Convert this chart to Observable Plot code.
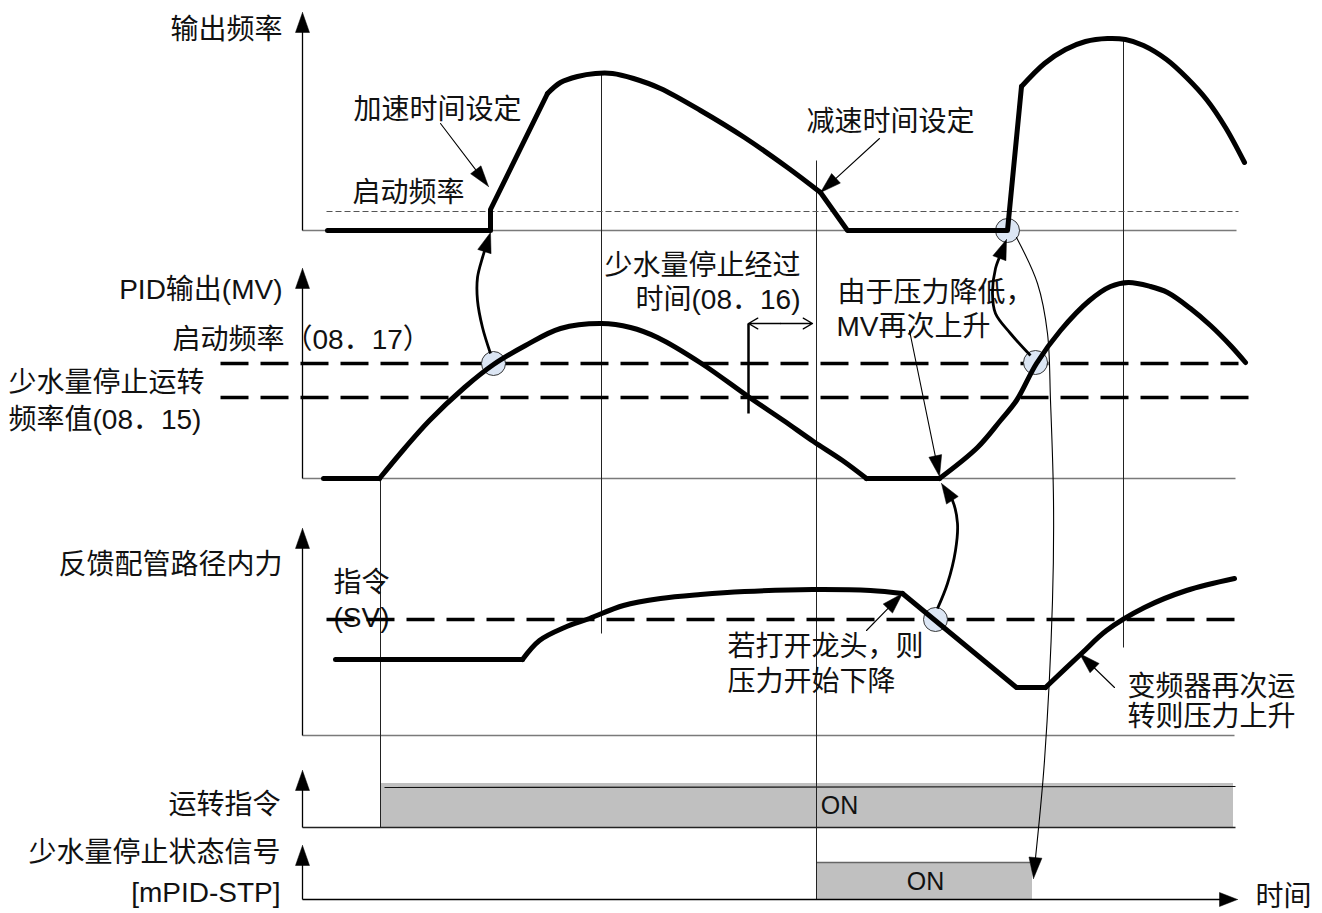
<!DOCTYPE html>
<html><head><meta charset="utf-8">
<script src="https://cdn.jsdelivr.net/npm/d3@7"></script>
<script src="https://cdn.jsdelivr.net/npm/@observablehq/plot@0.6"></script>
<style>html,body{margin:0;padding:0;background:#fff;} #chart svg{display:block}</style>
</head><body><div id="chart"></div>
<script>
// ---------------- DATA ----------------
// time in arbitrary units (s); each signal value is in level units above its panel baseline
const freqTime  = [2.5, 18.8, 18.8, 24.5, 25.8, 27.5, 29.3, 31.0, 33.1, 35.8, 39.8, 44.2, 48.5, 51.8, 54.5, 70.5, 71.9, 74.2, 76.3, 78.3, 80.5, 82.3, 84.1, 86.4, 88.5, 90.4, 92.3, 94.2];
const freqValue = [0, 0, 10.5, 68.5, 74, 77, 78.5, 78.5, 76, 71, 60, 46.5, 31.5, 19, 0, 0, 72, 83.5, 90.5, 94.5, 96, 95.5, 92.5, 85.5, 76, 65.5, 51.5, 34];
const freqSmooth = [[3, 13], [16, 27]];

const mvTime  = [2.1, 7.7, 10.2, 12.7, 16.2, 19.1, 22.3, 25.8, 29.9, 32.8, 35.5, 39.9, 44.7, 48.1, 51.1, 54.0, 56.4, 63.7, 67.5, 69.8, 71.4, 73.4, 75.8, 78.7, 80.8, 82.6, 84.8, 86.5, 88.8, 90.8, 92.8, 94.3];
const mvValue = [0, 0, 15, 29, 45.5, 57, 66.5, 75, 77.5, 75.5, 70.5, 57.5, 40.5, 29, 18.5, 9, 0, 0, 15.5, 29, 39, 57.5, 74, 89, 96, 98, 96, 93, 85, 76.5, 66.5, 58];
const mvSmooth = [[1, 16], [17, 31]];

const pressTime  = [3.3, 22.0, 23.7, 26.2, 28.7, 32.1, 35.8, 39.8, 44.2, 51.0, 56.8, 60.0, 71.4, 74.3, 77.9, 80.4, 84.2, 88.4, 93.2];
const pressValue = [38, 38, 47.5, 54, 58.5, 65, 68.5, 70.5, 72, 73, 72.5, 71, 24, 24, 41, 52.5, 64, 72.5, 78.5];
const pressSmooth = [[1, 11], [13, 18]];

// reference levels (dashed)
const refLines = [
  {name: "启动频率", p: 1, v: 9.5, t1: 2.4, t2: 93.6, kind: "thin"},
  {name: "启动频率(08.17)", p: 2, v: 57.5, t1: -8.2, t2: 93.6, kind: "thick"},
  {name: "少水量停止运转频率值(08.15)", p: 2, v: 40.5, t1: -8.2, t2: 95.0, kind: "thick"},
  {name: "指令(SV)", p: 3, v: 58, t1: 2.4, t2: 93.2, kind: "thick"}
];

// digital signals: run command and low-water stop state
const runOn = {t1: 7.9, t2: 93.1, level: 22};
const stpOn = {t1: 51.4, t2: 73.0, level: 18.5};

// event times (vertical markers): run start, MV peak, stop, MV second peak
const events = [
  {t: 7.8, from: [2, 0], to: [4, 0]},
  {t: 29.9, from: [1, 78.5], to: [3, 51]},
  {t: 51.4, from: [1, 35], to: [5, 0]},
  {t: 82.1, from: [1, 95], to: [3, 44]}
];

// highlighted crossings
const crossings = [
  {t: 19.1, p: 2, v: 57.5}, {t: 70.5, p: 1, v: 0},
  {t: 73.3, p: 2, v: 58}, {t: 63.3, p: 3, v: 58}
];

// connector arrows: points [t, panel, value]
const thickArrows = [
  {id: "a1", pts: [[18.8, 2, 62.5], [18.0, 2, 75.5], [17.5, 2, 89], [17.5, 2, 100.5], [18.0, 2, 110.5], [18.8, 1, -1]]},
  {id: "a2", pts: [[72.8, 2, 61.5], [70.8, 2, 72.5], [69.3, 2, 82.5], [69.0, 2, 92.5], [69.3, 2, 105], [70.4, 1, -4.5]]},
  {id: "a3", pts: [[63.5, 3, 63.5], [64.5, 3, 76], [65.3, 3, 92.5], [65.5, 3, 106], [65.0, 2, -11], [63.9, 2, -2.5]]}
];
const thinArrows = [
  {id: "t1", pts: [[13.8, 1, 53.5], [18.6, 1, 22]]},
  {id: "t2", pts: [[57.7, 1, 46], [51.8, 1, 19]]},
  {id: "t3", pts: [[60.7, 2, 74], [63.7, 2, 1]]},
  {id: "t4", pts: [[56.4, 3, 52.5], [60.0, 3, 71]]},
  {id: "t5", pts: [[81.2, 3, 24], [77.7, 3, 41]]},
  {id: "t6", pts: [[71.4, 1, -3.5], [73.5, 2, 97.5], [74.5, 2, 72.5], [74.8, 2, 39], [75.1, 3, 117.5], [75.0, 3, 67.5], [74.2, 4, 33.5], [73.1, 5, 10.5]]}
];
const span0816 = {t1: 44.6, t2: 51.0, p: 2, v: 77.5, tickFrom: 32.5};

// axes: panel, top value
const axisTop = [109, 105, 103.5, 28.5, 27];
const baselineEnd = [93.4, 93.3, 93.2, 93.3];
const timeAxisEnd = 93.5;

const labels = [
  {text: "输出频率", t: -2.0, p: 1, v: 100, a: "end"},
  {text: "加速时间设定", t: 5.1, p: 1, v: 60, a: "start"},
  {text: "启动频率", t: 5.0, p: 1, v: 18.5, a: "start"},
  {text: "减速时间设定", t: 50.4, p: 1, v: 54, a: "start"},
  {text: "PID输出(MV)", t: -2.0, p: 2, v: 94, a: "end"},
  {text: "启动频率（08．17）", t: -13.0, p: 2, v: 69, a: "start"},
  {text: "少水量停止运转", t: -29.4, p: 2, v: 47.5, a: "start"},
  {text: "频率值(08．15)", t: -29.4, p: 2, v: 29, a: "start"},
  {text: "少水量停止经过", t: 49.8, p: 2, v: 106, a: "end"},
  {text: "时间(08．16)", t: 49.8, p: 2, v: 89, a: "end"},
  {text: "由于压力降低，", t: 53.5, p: 2, v: 92.5, a: "start"},
  {text: "MV再次上升", t: 53.4, p: 2, v: 75.5, a: "start"},
  {text: "反馈配管路径内力", t: -2.0, p: 3, v: 85, a: "end"},
  {text: "指令", t: 3.1, p: 3, v: 76, a: "start"},
  {text: "(SV)", t: 3.1, p: 3, v: 58.5, a: "start"},
  {text: "若打开龙头，则", t: 42.5, p: 3, v: 44, a: "start"},
  {text: "压力开始下降", t: 42.5, p: 3, v: 26.5, a: "start"},
  {text: "变频器再次运", t: 82.5, p: 3, v: 24, a: "start"},
  {text: "转则压力上升", t: 82.5, p: 3, v: 9, a: "start"},
  {text: "运转指令", t: -2.2, p: 4, v: 11, a: "end"},
  {text: "少水量停止状态信号", t: -2.2, p: 5, v: 23, a: "end"},
  {text: "[mPID-STP]", t: -2.2, p: 5, v: 3, a: "end"},
  {text: "时间", t: 95.3, p: 5, v: 1, a: "start"}
];
const onLabels = [
  {text: "ON", t: 53.7, p: 4, v: 11},
  {text: "ON", t: 62.3, p: 5, v: 9}
];

// ---------------- LAYOUT ----------------
const W = 1322, H = 913;
const T0 = -30.2, T1 = 102.0;          // time span across the page
const LV = 456.5;                      // level span over the page height
const panelBase = [341.5, 217.5, 89, 43, 7];
const lvl = (p, v) => panelBase[p - 1] + v;
const xs = d3.scaleLinear([T0, T1], [0, W]);
const ys = d3.scaleLinear([0, LV], [H, 0]);
const FONT = "Liberation Sans, Noto Sans CJK SC, sans-serif";

function pieces(name, p, times, values, smooth) {
  const cut = new Set([0, times.length - 1]);
  smooth.forEach(([a, b]) => { cut.add(a); cut.add(b); });
  const c = [...cut].sort((a, b) => a - b);
  const rows = [];
  for (let k = 0; k < c.length - 1; k++) {
    const a = c[k], e = c[k + 1];
    const sm = smooth.some(([s0, s1]) => s0 === a && s1 === e);
    for (let i = a; i <= e; i++) rows.push({piece: name + k, smooth: sm, t: times[i], u: lvl(p, values[i])});
  }
  return rows;
}
const signal = [
  ...pieces("f", 1, freqTime, freqValue, freqSmooth),
  ...pieces("m", 2, mvTime, mvValue, mvSmooth),
  ...pieces("p", 3, pressTime, pressValue, pressSmooth)
];

// arrowhead polygon from direction of last segment (computed in pixel space)
function head(id, from, to, L, w) {
  const x1 = xs(from.t), y1 = ys(from.u), x2 = xs(to.t), y2 = ys(to.u);
  const dx = x2 - x1, dy = y2 - y1, len = Math.hypot(dx, dy);
  const ux = dx / len, uy = dy / len;
  const bx = x2 - L * ux, by = y2 - L * uy;
  const poly = [[x2, y2], [bx - w * uy, by + w * ux], [bx + w * uy, by - w * ux], [x2, y2]];
  return {
    poly: poly.map(([px, py]) => ({id, t: xs.invert(px), u: ys.invert(py)})),
    base: {t: xs.invert(x2 - 0.7 * L * ux), u: ys.invert(y2 - 0.7 * L * uy)}
  };
}
function buildArrows(list, L, w) {
  const lines = [], heads = [];
  for (const a of list) {
    const pts = a.pts.map(([t, p, v]) => ({id: a.id, t, u: lvl(p, v)}));
    const h = head(a.id, pts[pts.length - 2], pts[pts.length - 1], L, w);
    heads.push(...h.poly);
    pts[pts.length - 1] = {id: a.id, ...h.base};
    lines.push(...pts);
  }
  return {lines, heads};
}
const thick = buildArrows(thickArrows, 20, 7);
const thin = buildArrows(thinArrows, 21, 6.5);

// axes
const axisLines = [], axisHeads = [];
axisTop.forEach((top, i) => {
  const p = i + 1;
  const a = {t: 0, u: lvl(p, 0)}, b = {t: 0, u: lvl(p, top)};
  const h = head("ax" + p, a, b, 20, 7);
  axisLines.push({t1: 0, u1: a.u, t2: 0, u2: h.base.u});
  axisHeads.push(...h.poly);
});
{
  const a = {t: 0, u: lvl(5, 0)}, b = {t: timeAxisEnd, u: lvl(5, 0)};
  const h = head("time", a, b, 18, 7);
  axisLines.push({t1: 0, u1: a.u, t2: h.base.t, u2: a.u});
  axisHeads.push(...h.poly);
}
const baselines = baselineEnd.map((e, i) => ({t1: 0, t2: e, u: lvl(i + 1, 0), dark: i === 3}));

const plot = Plot.plot({
  width: W, height: H, margin: 0,
  x: {domain: [T0, T1], range: [0, W], axis: null},
  y: {domain: [0, LV], range: [H, 0], axis: null},
  style: {background: "#fff", overflow: "visible"},
  marks: [
    // digital signal bars
    Plot.rect([runOn], {x1: "t1", x2: "t2", y1: lvl(4, 0), y2: d => lvl(4, d.level), fill: "#c0c0c0"}),
    Plot.rect([stpOn], {x1: "t1", x2: "t2", y1: lvl(5, 0), y2: d => lvl(5, d.level), fill: "#c0c0c0"}),
    Plot.link([runOn], {x1: d => d.t1 + 0.3, x2: d => d.t2 + 0.2, y1: lvl(4, 20), y2: lvl(4, 20.5), stroke: "#111", strokeWidth: 1.2}),
    Plot.link([stpOn], {x1: "t1", x2: d => d.t2 - 0.2, y1: lvl(5, 18.5), y2: lvl(5, 18.5), stroke: "#666", strokeWidth: 1.5}),
    // baselines
    Plot.link(baselines.filter(d => !d.dark), {x1: "t1", x2: "t2", y1: "u", y2: "u", stroke: "#7a7a7a", strokeWidth: 1.6}),
    Plot.link(baselines.filter(d => d.dark), {x1: "t1", x2: "t2", y1: "u", y2: "u", stroke: "#222", strokeWidth: 1.4}),
    // event markers
    Plot.link(events, {x1: "t", x2: "t", y1: d => lvl(...d.from), y2: d => lvl(...d.to), stroke: "#222", strokeWidth: 1}),
    // axes
    Plot.link(axisLines, {x1: "t1", x2: "t2", y1: "u1", y2: "u2", stroke: "#000", strokeWidth: 1.3}),
    Plot.line(axisHeads, {x: "t", y: "u", z: "id", fill: "#000", stroke: "#000", strokeWidth: 0.5}),
    // labels
    Plot.text(labels.filter(d => d.a === "start"), {x: "t", y: d => lvl(d.p, d.v), text: "text", textAnchor: "start", fontSize: 28, fontFamily: FONT, fill: "#111"}),
    Plot.text(labels.filter(d => d.a === "end"), {x: "t", y: d => lvl(d.p, d.v), text: "text", textAnchor: "end", fontSize: 28, fontFamily: FONT, fill: "#111"}),
    Plot.text(onLabels, {x: "t", y: d => lvl(d.p, d.v), text: "text", fontSize: 25, fontFamily: FONT, fill: "#111"}),
    // dashed reference levels
    Plot.link(refLines.filter(d => d.kind === "thin"), {x1: "t1", x2: "t2", y1: d => lvl(d.p, d.v), y2: d => lvl(d.p, d.v), stroke: "#555", strokeWidth: 1, strokeDasharray: "6,3"}),
    Plot.link(refLines.filter(d => d.kind === "thick"), {x1: "t1", x2: "t2", y1: d => lvl(d.p, d.v), y2: d => lvl(d.p, d.v), stroke: "#000", strokeWidth: 3.5, strokeDasharray: "28,12"}),
    // crossings
    Plot.dot(crossings, {x: "t", y: d => lvl(d.p, d.v), r: 12, fill: "#dce6f4", stroke: "#222", strokeWidth: 0.9}),
    // signals
    Plot.line(signal.filter(d => !d.smooth), {x: "t", y: "u", z: "piece", stroke: "#000", strokeWidth: 5, strokeLinecap: "round", strokeLinejoin: "round"}),
    Plot.line(signal.filter(d => d.smooth), {x: "t", y: "u", z: "piece", curve: "catmull-rom", stroke: "#000", strokeWidth: 5, strokeLinecap: "round", strokeLinejoin: "round"}),
    // 08.16 elapsed time span
    Plot.link([span0816], {x1: "t1", x2: "t1", y1: d => lvl(d.p, d.tickFrom), y2: d => lvl(d.p, d.v), stroke: "#000", strokeWidth: 2.5}),
    Plot.arrow([span0816], {x1: d => (d.t1 + d.t2) / 2, x2: "t1", y1: d => lvl(d.p, d.v), y2: d => lvl(d.p, d.v), stroke: "#000", strokeWidth: 1.3, headLength: 13}),
    Plot.arrow([span0816], {x1: d => (d.t1 + d.t2) / 2, x2: "t2", y1: d => lvl(d.p, d.v), y2: d => lvl(d.p, d.v), stroke: "#000", strokeWidth: 1.3, headLength: 13}),
    // connector arrows
    Plot.line(thick.lines, {x: "t", y: "u", z: "id", curve: "catmull-rom", stroke: "#000", strokeWidth: 2.8, strokeLinecap: "butt"}),
    Plot.line(thick.heads, {x: "t", y: "u", z: "id", fill: "#000", stroke: "#000", strokeWidth: 0.5}),
    Plot.line(thin.lines, {x: "t", y: "u", z: "id", curve: "catmull-rom", stroke: "#000", strokeWidth: 1.1}),
    Plot.line(thin.heads, {x: "t", y: "u", z: "id", fill: "#000", stroke: "#000", strokeWidth: 0.5})
  ]
});
document.getElementById("chart").appendChild(plot);
</script></body></html>
